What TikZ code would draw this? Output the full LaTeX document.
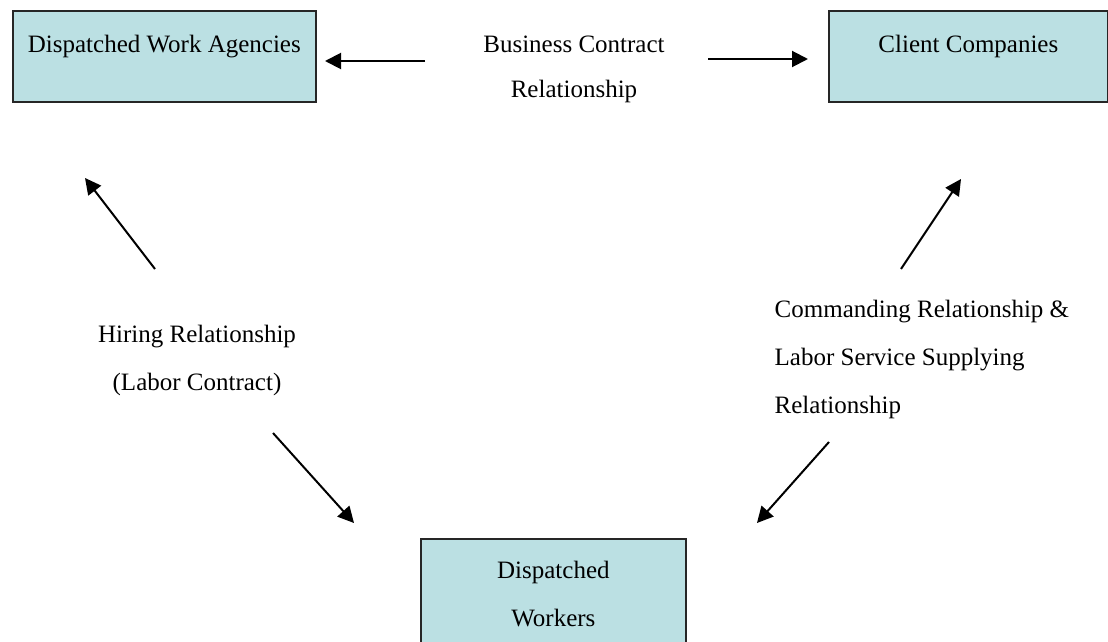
\documentclass[tikz,border=0pt]{standalone}
\usepackage{fontspec}
\setmainfont{Liberation Serif}
\usetikzlibrary{arrows.meta}
\definecolor{boxcyan}{RGB}{187,224,227}
\begin{document}
\begin{tikzpicture}[x=0.75pt,y=-0.75pt,
  every node/.style={font=\fontsize{18.75pt}{36pt}\selectfont},
  box/.style={draw=black!85,fill=boxcyan,line width=1.3pt,anchor=north west,inner ysep=0pt,align=center},
  arr/.style={-{Triangle[length=12pt,width=12pt]},line width=1.5pt}]
\useasboundingbox (0,0) rectangle (1108,642);
% Agencies, Clients, Workers
\node[box,minimum width=227.25pt,text height=31.5pt,text depth=36.75pt] (agency) at (12,10) {Dispatched Work Agencies};
\node[box,minimum width=209.25pt,text height=31.5pt,text depth=36.75pt] (client) at (828,10) {Client Companies};
\node[box,minimum width=198.75pt,text height=66pt,text depth=24pt] (worker) at (420,538) {Dispatched\\Workers};
% Relationship labels (base = last line)
\node[align=center,anchor=base] (bizrel) at (574,98) {Business Contract\\[-2.25pt]Relationship};
\node[align=center,anchor=base] (hirerel) at (197,390) {Hiring Relationship\\(Labor Contract)};
\node[align=left,anchor=base west] (cmdrel) at (770,413) {Commanding Relationship \&\\Labor Service Supplying\\Relationship};
% Arrow ends
\coordinate (bizl) at (425,61);   \coordinate (bizltip) at (325,61);
\coordinate (bizr) at (708,59);   \coordinate (bizrtip) at (808,59);
\coordinate (hireu) at (155,269); \coordinate (hireutip) at (85,178);
\coordinate (hired) at (273,433); \coordinate (hiredtip) at (354,523);
\coordinate (cmdu) at (901,269);  \coordinate (cmdutip) at (961,179);
\coordinate (cmdd) at (829,442);  \coordinate (cmddtip) at (757,523);
% Arrows
\draw[arr] (bizl) -- (bizltip);
\draw[arr] (bizr) -- (bizrtip);
\draw[arr] (hireu) -- (hireutip);
\draw[arr] (hired) -- (hiredtip);
\draw[arr] (cmdu) -- (cmdutip);
\draw[arr] (cmdd) -- (cmddtip);
\end{tikzpicture}
\end{document}
